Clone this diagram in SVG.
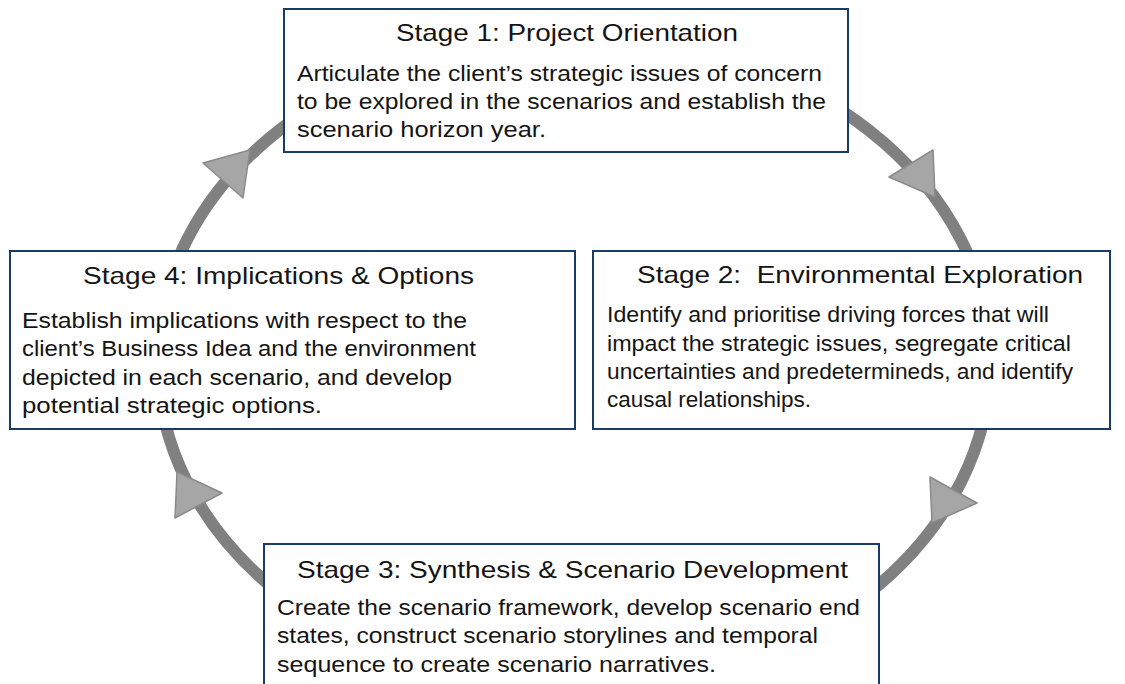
<svg xmlns="http://www.w3.org/2000/svg" width="1125" height="684" viewBox="0 0 1125 684">
  <style>
    .ring { fill: none; stroke: #808080; stroke-width: 12; }
    .head { fill: #a6a6a6; stroke: #8a8a8a; stroke-width: 1.5; stroke-linejoin: round; }
    .box { fill: #ffffff; stroke: #1a3b68; stroke-width: 2; }
    .title { font-family: "Liberation Sans", Arial, sans-serif; font-size: 24px; fill: #141414; white-space: pre; }
    .body { font-family: "Liberation Sans", Arial, sans-serif; font-size: 22px; fill: #141414; }
  </style>
  <rect width="1125" height="684" fill="#ffffff"/>

  <!-- cycle ring with arrowheads -->
  <g id="connectors">
    <path class="ring" d="M157.5,360 A416.5,325.3 0 0 1 990.5,360 A416.5,330 0 0 1 157.5,360 Z"/>
    <polygon class="head" points="203,163 250,150 243,198"/>
    <polygon class="head" points="889,177 933,150 935,197"/>
    <polygon class="head" points="930,477 977,503 932,523"/>
    <polygon class="head" points="177,472 222,493 175,518"/>
  </g>

  <g id="stage1">
    <rect class="box" x="284" y="9" width="564" height="143"/>
    <text class="title" x="396" y="41" textLength="342" lengthAdjust="spacingAndGlyphs">Stage 1: Project Orientation</text>
    <text class="body" x="297" y="81" textLength="525" lengthAdjust="spacingAndGlyphs">Articulate the client’s strategic issues of concern</text>
    <text class="body" x="297" y="109" textLength="529" lengthAdjust="spacingAndGlyphs">to be explored in the scenarios and establish the</text>
    <text class="body" x="297" y="137" textLength="249" lengthAdjust="spacingAndGlyphs">scenario horizon year.</text>
  </g>

  <g id="stage2">
    <rect class="box" x="593" y="251" width="517" height="178"/>
    <text class="title" x="637" y="283" textLength="446" lengthAdjust="spacingAndGlyphs">Stage 2:  Environmental Exploration</text>
    <text class="body" x="607" y="322" textLength="442" lengthAdjust="spacingAndGlyphs">Identify and prioritise driving forces that will</text>
    <text class="body" x="607" y="351" textLength="464" lengthAdjust="spacingAndGlyphs">impact the strategic issues, segregate critical</text>
    <text class="body" x="607" y="379" textLength="466" lengthAdjust="spacingAndGlyphs">uncertainties and predetermineds, and identify</text>
    <text class="body" x="607" y="407" textLength="204" lengthAdjust="spacingAndGlyphs">causal relationships.</text>
  </g>

  <g id="stage3">
    <rect class="box" x="264" y="544" width="615" height="160"/>
    <text class="title" x="297" y="578" textLength="551" lengthAdjust="spacingAndGlyphs">Stage 3: Synthesis &amp; Scenario Development</text>
    <text class="body" x="277" y="615" textLength="583" lengthAdjust="spacingAndGlyphs">Create the scenario framework, develop scenario end</text>
    <text class="body" x="277" y="643" textLength="541" lengthAdjust="spacingAndGlyphs">states, construct scenario storylines and temporal</text>
    <text class="body" x="277" y="672" textLength="439" lengthAdjust="spacingAndGlyphs">sequence to create scenario narratives.</text>
  </g>

  <g id="stage4">
    <rect class="box" x="10" y="251" width="565" height="178"/>
    <text class="title" x="83" y="284" textLength="391" lengthAdjust="spacingAndGlyphs">Stage 4: Implications &amp; Options</text>
    <text class="body" x="22" y="328" textLength="445" lengthAdjust="spacingAndGlyphs">Establish implications with respect to the</text>
    <text class="body" x="22" y="356" textLength="454" lengthAdjust="spacingAndGlyphs">client’s Business Idea and the environment</text>
    <text class="body" x="22" y="385" textLength="430" lengthAdjust="spacingAndGlyphs">depicted in each scenario, and develop</text>
    <text class="body" x="22" y="413" textLength="300" lengthAdjust="spacingAndGlyphs">potential strategic options.</text>
  </g>
</svg>
